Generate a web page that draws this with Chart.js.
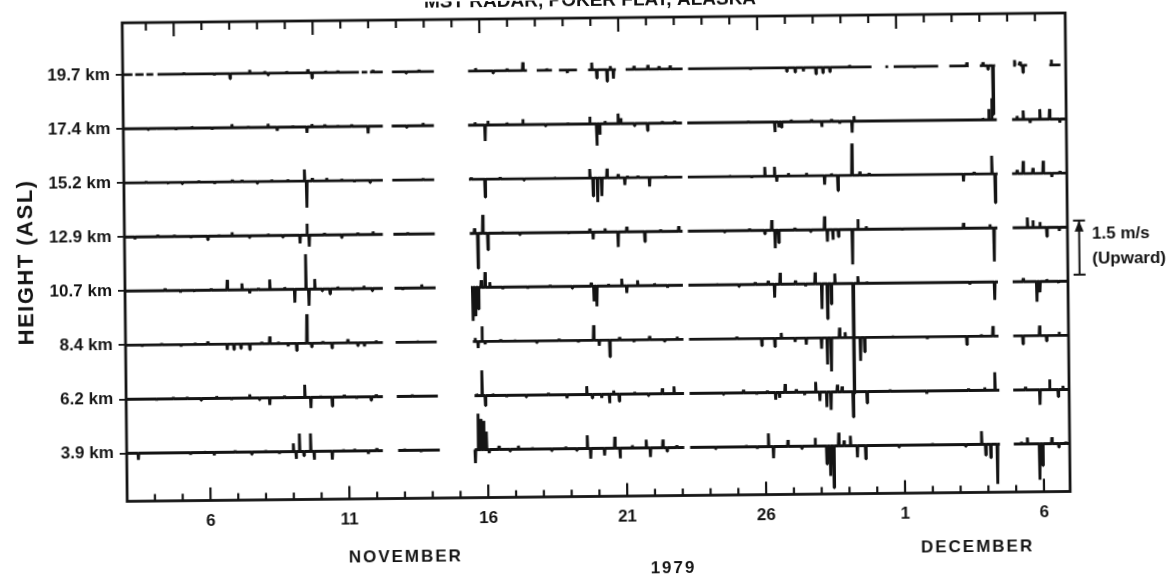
<!DOCTYPE html>
<html>
<head>
<meta charset="utf-8">
<title>Vertical velocity, Poker Flat MST radar, Nov-Dec 1979</title>
<script src="https://cdn.jsdelivr.net/npm/chart.js@4.4.1/dist/chart.umd.min.js"></script>
<style>
  html, body { margin: 0; padding: 0; background: #fff; overflow: hidden; }
  #wrap { width: 1174px; height: 577px; }
  /* the scanned figure sits slightly tilted on the page */
  canvas { display: block; transform: rotate(-0.6deg); transform-origin: 50% 50%; }
</style>
</head>
<body>
<div id="wrap"><canvas id="vel" width="1174" height="577"></canvas></div>
<script>
// heights, bottom trace first
const heights = ['3.9 km', '6.2 km', '8.4 km', '10.7 km', '12.9 km', '15.2 km', '17.4 km', '19.7 km'];

// day of the run (1 = 1 Nov, 31 = 1 Dec) and tick labels
const dayTicks = [6, 11, 16, 21, 26, 31, 36];
const dayLabels = ['6', '11', '16', '21', '26', '1', '6'];
const topMajor = [5, 10, 16, 21, 26, 31];

// stretches with data, [from, to] in days
const seg39 = [[3.0, 12.22], [12.77, 14.27], [15.52, 23.07], [23.28, 34.43], [34.93, 36.94]];
const seg62 = [[3.0, 12.24], [12.74, 14.22], [15.54, 23.08], [23.28, 34.43], [34.93, 36.94]];
const seg84 = [[3.0, 12.26], [12.72, 14.2], [15.5, 23.08], [23.28, 34.42], [34.95, 36.94]];
const seg107 = [[3.0, 12.28], [12.7, 14.18], [15.45, 23.08], [23.28, 34.42], [34.95, 36.94]];
const seg129 = [[3.0, 12.3], [12.68, 14.17], [15.43, 23.09], [23.28, 34.42], [34.97, 36.94]];
const seg152 = [[3.0, 12.32], [12.66, 14.17], [15.42, 23.1], [23.3, 34.45], [34.97, 36.94]];
const seg174 = [[3.0, 12.34], [12.66, 14.18], [15.41, 23.11], [23.3, 34.44], [34.99, 36.94]];
const seg197 = [[3.0, 3.35], [3.45, 3.75], [3.85, 4.1], [4.25, 11.5], [11.6, 11.8], [11.9, 12.36],
  [12.69, 14.2], [15.43, 17.55], [17.9, 18.45], [18.7, 19.35], [19.75, 20.75], [21.1, 23.15],
  [23.35, 29.95], [30.45, 30.55], [30.75, 32.35], [32.75, 33.45], [33.85, 34.4], [35.05, 35.15],
  [35.25, 35.55], [36.35, 36.75]];

// vertical velocity excursions, [day, m/s], upward positive
const spk39 = [[3.42, -0.18], [4.6, 0.04], [5.3, -0.05], [5.8, 0.04], [6.15, -0.08], [6.9, 0.05], [7.5, -0.06],
  [8.0, 0.05], [8.5, -0.05], [9.0, 0.23], [9.1, -0.2], [9.22, 0.5], [9.38, -0.12], [9.62, 0.5], [9.75, -0.23],
  [10.4, -0.23], [10.8, 0.05], [11.2, 0.06], [11.7, -0.08], [12.0, 0.07], [13.0, 0.05], [13.6, -0.05],
  [15.55, -0.37], [15.65, 1.0], [15.75, 0.85], [15.85, 0.8], [15.95, 0.5], [16.05, -0.1], [16.4, 0.1],
  [16.8, -0.05], [17.1, 0.1], [17.6, 0.05], [18.3, -0.05], [18.8, 0.06], [19.2, -0.05], [19.58, 0.37],
  [19.7, -0.28], [20.2, -0.2], [20.57, 0.32], [20.76, -0.28], [21.2, 0.08], [21.7, 0.23], [21.85, -0.25],
  [22.3, 0.23], [22.45, -0.1], [22.8, 0.06], [24.2, -0.04], [25.3, 0.05], [25.7, -0.05], [26.1, 0.37],
  [26.28, -0.32], [26.8, 0.18], [27.3, -0.06], [27.78, 0.23], [28.2, -0.5], [28.33, -0.83], [28.45, -1.16],
  [28.63, 0.37], [28.82, 0.15], [29.05, 0.28], [29.3, -0.32], [29.6, -0.37], [30.8, -0.05], [32.0, 0.05],
  [33.2, -0.05], [33.77, 0.37], [33.92, -0.3], [34.1, -0.37], [34.34, -1.1], [35.2, 0.06], [35.42, 0.18],
  [35.86, -1.0], [35.97, -0.6], [36.3, 0.18], [36.55, -0.1], [36.8, 0.05]];
const spk62 = [[4.1, -0.04], [4.7, 0.04], [5.2, 0.04], [5.7, -0.05], [6.26, 0.06], [6.8, -0.05], [7.45, 0.1],
  [7.8, -0.05], [8.17, -0.2], [8.7, 0.05], [9.43, 0.35], [9.65, -0.3], [10.0, 0.05], [10.42, -0.25],
  [10.85, 0.06], [11.3, -0.05], [11.82, -0.1], [12.0, 0.06], [13.3, 0.04], [15.62, 0.05], [15.81, 0.7],
  [15.93, -0.28], [16.2, 0.05], [16.7, -0.05], [17.4, -0.05], [18.2, 0.05], [18.87, -0.1], [19.58, 0.23],
  [19.78, -0.1], [20.12, -0.1], [20.4, -0.25], [20.55, 0.1], [20.75, -0.2], [21.3, 0.06], [21.8, -0.05],
  [22.3, 0.15], [22.72, 0.2], [24.5, -0.04], [25.22, 0.08], [25.7, -0.05], [26.08, 0.05], [26.38, -0.2],
  [26.52, -0.15], [26.72, 0.23], [27.12, 0.08], [27.42, -0.08], [27.82, 0.28], [27.97, -0.25], [28.22, -0.42],
  [28.37, -0.5], [28.6, 0.2], [28.77, 0.15], [29.17, -0.7], [29.67, -0.32], [30.5, 0.04], [31.82, -0.08],
  [33.32, 0.05], [33.9, 0.08], [34.27, 0.5], [35.37, 0.08], [35.89, -0.42], [36.24, 0.28], [36.55, -0.2],
  [36.72, 0.1]];
const spk84 = [[3.6, -0.04], [4.3, 0.04], [5.0, -0.05], [5.5, 0.05], [5.96, 0.08], [6.66, -0.16], [6.9, -0.15],
  [7.15, -0.12], [7.47, -0.16], [7.9, 0.05], [8.19, 0.2], [8.5, 0.05], [8.85, -0.08], [9.16, -0.2], [9.53, 0.81],
  [9.7, -0.1], [10.1, 0.05], [10.43, -0.14], [11.0, 0.1], [11.36, -0.08], [11.6, -0.1], [12.02, 0.06],
  [13.5, 0.04], [15.58, 0.1], [15.69, -0.18], [15.83, 0.42], [15.94, -0.08], [16.5, 0.05], [17.0, 0.04],
  [17.8, -0.05], [18.6, 0.05], [19.3, -0.05], [19.85, 0.42], [20.05, -0.15], [20.43, -0.46], [20.78, 0.08],
  [21.3, -0.06], [21.86, 0.1], [22.4, -0.05], [22.85, 0.08], [24.0, 0.04], [25.0, 0.06], [25.9, -0.2],
  [26.37, -0.23], [26.6, 0.15], [27.1, -0.1], [27.5, -0.18], [28.05, -0.3], [28.26, -0.74], [28.4, -0.93],
  [28.7, 0.28], [28.9, 0.15], [29.45, -0.65], [29.6, -0.4], [30.6, 0.04], [31.86, -0.06], [33.28, -0.23],
  [33.8, 0.05], [34.22, 0.28], [35.3, -0.23], [35.9, 0.28], [36.15, -0.15], [36.6, 0.1]];
const spk107 = [[3.7, 0.04], [4.44, 0.06], [5.0, -0.05], [5.5, -0.04], [6.1, 0.05], [6.68, 0.28], [7.21, 0.18],
  [7.49, -0.1], [7.8, 0.05], [8.21, 0.28], [8.75, 0.06], [9.11, -0.37], [9.51, 0.97], [9.62, -0.46],
  [9.83, 0.28], [10.1, -0.05], [10.38, -0.14], [10.66, 0.06], [11.2, -0.05], [11.6, 0.08], [11.9, -0.06],
  [13.0, -0.04], [13.68, 0.1], [15.52, -0.93], [15.62, -0.8], [15.72, -0.6], [15.82, 0.2], [15.96, 0.42],
  [16.13, 0.14], [16.6, -0.05], [17.5, -0.04], [18.3, 0.05], [19.1, -0.05], [19.78, 0.1], [19.88, -0.42],
  [19.98, -0.56], [20.4, 0.06], [20.88, 0.2], [21.06, -0.2], [21.45, 0.15], [22.06, 0.06], [22.53, -0.06],
  [24.3, 0.04], [25.1, -0.05], [25.68, 0.06], [26.15, 0.1], [26.38, -0.37], [26.58, 0.32], [27.13, 0.1],
  [27.5, -0.06], [27.84, 0.32], [28.08, -0.7], [28.28, -0.97], [28.42, -0.56], [28.55, 0.28], [29.21, -3.05],
  [29.38, 0.2], [29.7, 0.05], [33.41, -0.06], [34.3, -0.5], [35.33, 0.1], [35.82, -0.56], [35.93, -0.3],
  [36.18, 0.06], [36.6, -0.05]];
const spk129 = [[3.38, -0.06], [4.2, 0.05], [4.8, 0.04], [5.4, -0.05], [6.0, -0.1], [6.4, 0.05], [6.87, 0.1],
  [7.5, -0.05], [8.17, 0.05], [8.7, -0.05], [9.32, -0.23], [9.57, 0.32], [9.65, -0.32], [10.2, 0.05],
  [10.82, -0.08], [11.4, 0.05], [11.95, 0.08], [13.2, 0.04], [15.6, 0.14], [15.72, -0.97], [15.9, 0.51],
  [16.08, -0.46], [16.6, 0.04], [17.23, -0.05], [18.1, 0.04], [19.0, -0.04], [19.75, 0.1], [19.87, -0.2],
  [20.3, 0.1], [20.77, -0.42], [21.08, 0.14], [21.73, -0.28], [22.3, 0.05], [22.95, 0.14], [24.6, -0.04],
  [25.5, 0.05], [26.05, -0.1], [26.3, 0.28], [26.42, -0.5], [26.55, -0.35], [27.13, 0.06], [27.7, -0.05],
  [28.2, 0.37], [28.3, -0.33], [28.5, -0.28], [28.7, -0.2], [29.2, -0.97], [29.4, 0.28], [29.7, 0.08],
  [31.0, -0.04], [33.2, 0.15], [34.15, 0.1], [34.3, -0.93], [35.5, 0.28], [35.7, 0.2], [35.95, 0.15],
  [36.2, -0.25], [36.65, -0.1]];
const spk152 = [[3.8, 0.04], [4.6, -0.04], [5.1, -0.04], [5.7, 0.04], [6.27, -0.05], [6.9, 0.06], [7.25, 0.05],
  [7.8, -0.05], [8.32, 0.05], [8.9, 0.05], [9.5, 0.32], [9.58, -0.74], [9.78, 0.08], [10.3, 0.08],
  [10.84, 0.05], [11.3, -0.04], [11.86, -0.06], [13.77, 0.04], [15.5, 0.05], [16.0, -0.5], [16.54, 0.05],
  [17.4, -0.04], [18.5, 0.04], [19.77, 0.25], [19.89, -0.5], [20.05, -0.67], [20.2, -0.5], [20.39, 0.26],
  [20.79, 0.1], [21.03, -0.2], [21.12, 0.06], [21.5, 0.05], [21.92, -0.25], [22.5, 0.05], [24.8, 0.04],
  [25.6, -0.04], [26.07, 0.26], [26.42, 0.26], [26.5, -0.15], [26.92, 0.08], [27.57, 0.08], [28.22, -0.25],
  [28.47, 0.06], [28.7, -0.42], [29.21, 0.88], [29.49, 0.1], [29.82, 0.06], [33.22, -0.2], [33.6, 0.06],
  [34.24, 0.5], [34.36, -0.8], [35.15, 0.1], [35.37, 0.35], [35.72, 0.15], [36.09, 0.35], [36.4, -0.1],
  [36.69, 0.06]];
const spk174 = [[3.9, -0.03], [4.2, 0.03], [4.9, -0.04], [5.47, 0.05], [6.2, -0.04], [6.91, 0.1], [7.5, 0.04],
  [8.21, 0.1], [8.54, -0.1], [9.1, 0.05], [9.61, -0.16], [9.79, 0.08], [10.25, 0.06], [10.72, 0.05],
  [11.22, 0.05], [11.81, -0.2], [13.2, -0.04], [13.79, 0.08], [15.66, 0.08], [16.02, -0.44], [16.12, 0.12],
  [16.81, 0.06], [17.38, 0.15], [18.2, -0.04], [19.0, 0.05], [19.79, 0.2], [20.04, -0.6], [20.15, -0.3],
  [20.34, 0.08], [20.81, 0.28], [20.9, 0.15], [21.4, -0.06], [21.87, -0.2], [22.4, 0.05], [22.84, 0.06],
  [25.5, 0.04], [26.45, -0.28], [26.6, -0.15], [26.69, -0.15], [27.04, 0.06], [27.77, 0.06], [28.14, -0.15],
  [28.49, 0.06], [28.79, -0.06], [29.23, -0.32], [29.3, 0.14], [33.94, 0.05], [34.15, 0.3], [34.26, 0.6],
  [35.17, 0.1], [35.39, 0.25], [35.64, -0.1], [35.99, 0.28], [36.34, 0.28], [36.71, -0.1]];
const spk197 = [[5.2, 0.04], [6.3, -0.04], [6.86, -0.14], [7.57, 0.1], [8.11, 0.06], [8.23, -0.05], [8.9, 0.05],
  [9.66, 0.1], [9.81, -0.15], [10.3, 0.05], [10.74, 0.05], [12.0, 0.06], [13.2, -0.04], [13.66, 0.05],
  [15.7, 0.08], [16.33, -0.06], [16.83, 0.06], [17.4, 0.23], [18.26, 0.05], [19.0, -0.08], [19.88, 0.2],
  [20.06, -0.23], [20.43, -0.32], [20.55, 0.1], [20.66, -0.25], [21.4, 0.1], [21.9, 0.12], [22.3, 0.08],
  [22.7, 0.1], [25.6, -0.04], [26.9, -0.1], [27.2, -0.12], [27.5, -0.1], [27.95, -0.18], [28.2, -0.15],
  [28.45, -0.12], [29.16, 0.06], [31.5, -0.04], [33.38, 0.1], [33.96, 0.1], [34.14, -0.1], [34.32, -1.35],
  [35.1, 0.15], [35.3, 0.1], [35.4, -0.2], [36.42, 0.15]];

// scale bar: 1.5 m/s, drawn between the 10.7 and 12.9 km traces
const barBase = 4.68;
const barSpan = 1.5;

const segs = [seg39, seg62, seg84, seg107, seg129, seg152, seg174, seg197];
const spks = [spk39, spk62, spk84, spk107, spk129, spk152, spk174, spk197];
const step = 1.5;   // trace spacing in m/s, same as the scale bar
const ink = '#141414';
const face = '"Liberation Sans", Arial, sans-serif';

// one trace: flat baseline, narrow excursions, breaks where there is no data
function trace(seg, spk, base) {
  const pts = [];
  const w = 0.016;
  seg.forEach(([a, b]) => {
    pts.push({ x: a, y: base });
    spk.filter(s => s[0] > a && s[0] < b).forEach(([d, v]) => {
      pts.push({ x: d - w, y: base }, { x: d, y: base + v }, { x: d + w, y: base });
    });
    pts.push({ x: b, y: base }, { x: b, y: null });
  });
  return pts;
}

const datasets = heights.map((h, i) => ({
  label: h,
  data: trace(segs[i], spks[i], i * step),
  borderColor: ink,
  borderWidth: 2.9,
  borderJoinStyle: 'bevel',
  pointRadius: 0,
  fill: false,
  tension: 0,
  spanGaps: false
}));

function seg(ctx, x1, y1, x2, y2) {
  ctx.beginPath(); ctx.moveTo(x1, y1); ctx.lineTo(x2, y2); ctx.stroke();
}
function label(ctx, str, x, y, size, spacing, align) {
  ctx.font = 'bold ' + size + 'px ' + face;
  ctx.letterSpacing = spacing + 'px';
  ctx.textAlign = align || 'center';
  ctx.textBaseline = 'middle';
  ctx.fillText(str, align === 'left' ? x : x + spacing / 2, y);
}

const frame = {
  id: 'frame',
  beforeDraw(chart) {
    const ctx = chart.ctx;
    ctx.save();
    ctx.fillStyle = '#fff';
    ctx.fillRect(0, 0, chart.width, chart.height);
    ctx.restore();
  },
  afterDraw(chart) {
    const { ctx, chartArea: a, scales: { x, y } } = chart;
    ctx.save();
    ctx.strokeStyle = ink;
    ctx.fillStyle = ink;
    ctx.lineWidth = 2.8;
    ctx.strokeRect(a.left, a.top, a.right - a.left, a.bottom - a.top);

    // day ticks, pointing into the frame
    ctx.lineWidth = 2.2;
    for (let d = 4; d <= 36; d++) {
      const pb = x.getPixelForValue(d);
      seg(ctx, pb, a.bottom, pb, a.bottom - (dayTicks.includes(d) ? 13 : 7));
      const pt = x.getPixelForValue(d - 0.15);
      seg(ctx, pt, a.top, pt, a.top + (topMajor.includes(d) ? 14 : 8));
    }

    // scale bar
    const bx = a.right + 11.7;
    const yt = y.getPixelForValue(barBase + barSpan);
    const yb = y.getPixelForValue(barBase);
    ctx.lineWidth = 2;
    seg(ctx, bx, yt, bx, yb);
    seg(ctx, bx - 6, yt, bx + 6, yt);
    seg(ctx, bx - 6, yb, bx + 6, yb);
    ctx.beginPath();
    ctx.moveTo(bx, yt); ctx.lineTo(bx - 4.5, yt + 11); ctx.lineTo(bx + 4.5, yt + 11);
    ctx.closePath(); ctx.fill();
    label(ctx, '1.5 m/s', a.right + 24.6, yt + 14, 17, 0, 'left');
    label(ctx, '(Upward)', a.right + 24.6, yt + 39, 17, 0, 'left');

    // month / year captions
    label(ctx, 'NOVEMBER', x.getPixelForValue(12.97), a.bottom + 58.5, 17, 2);
    label(ctx, 'DECEMBER', x.getPixelForValue(33.55), a.bottom + 54.5, 17, 2);
    label(ctx, '1979', x.getPixelForValue(22.6), a.bottom + 72.5, 17, 2);

    // title, mostly cut off by the top of the page
    ctx.font = 'bold 19px ' + face;
    ctx.letterSpacing = '0px';
    ctx.textAlign = 'center';
    ctx.textBaseline = 'alphabetic';
    ctx.fillText('MST RADAR, POKER FLAT, ALASKA', chart.width / 2 + 6, 5.5);

    // y axis title
    ctx.translate(27, (a.top + a.bottom) / 2);
    ctx.rotate(-Math.PI / 2);
    label(ctx, 'HEIGHT (ASL)', 0, 0, 22, 1.5);
    ctx.letterSpacing = '0px';
    ctx.restore();
  }
};

const tickFont = { family: face, size: 17, weight: 'bold' };

new Chart(document.getElementById('vel'), {
  type: 'line',
  data: { datasets: datasets },
  plugins: [frame],
  options: {
    responsive: false,
    animation: false,
    events: [],
    layout: { padding: { top: 18, right: 106, bottom: 0, left: 0 } },
    plugins: {
      legend: { display: false },
      tooltip: { enabled: false },
      title: { display: false }
    },
    scales: {
      x: {
        type: 'linear',
        min: 3,
        max: 36.94,
        afterFit: s => { s.height = 80.5; },
        afterBuildTicks: s => { s.ticks = dayTicks.map(v => ({ value: v })); },
        grid: { display: false, drawTicks: false },
        border: { display: false },
        ticks: {
          color: ink,
          font: tickFont,
          padding: 11,
          maxRotation: 0,
          autoSkip: false,
          callback: (v, i) => dayLabels[i]
        }
      },
      y: {
        type: 'linear',
        min: -1.33,
        max: 11.94,
        afterFit: s => { s.width = 125; },
        afterBuildTicks: s => { s.ticks = heights.map((h, i) => ({ value: i * step })); },
        grid: { drawOnChartArea: false, drawTicks: true, tickLength: 7, color: ink, lineWidth: 1.8 },
        border: { display: false },
        ticks: {
          color: ink,
          font: tickFont,
          padding: 6,
          autoSkip: false,
          callback: (v, i) => heights[i]
        }
      }
    }
  }
});
</script>
</body>
</html>
